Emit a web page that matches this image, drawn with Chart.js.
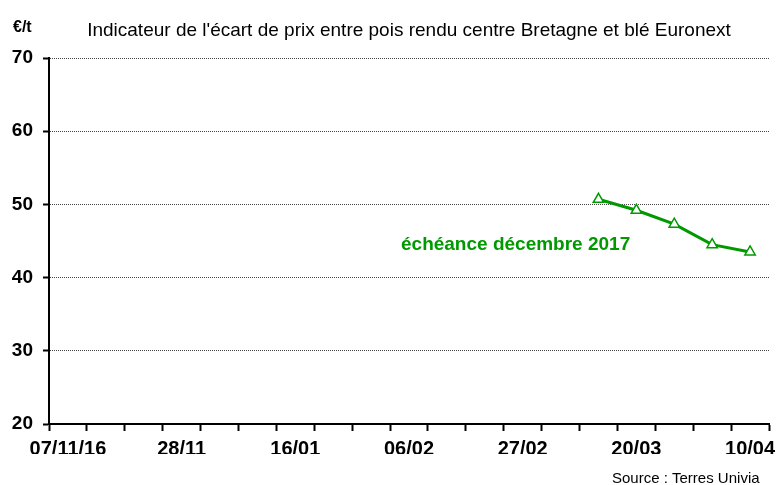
<!DOCTYPE html>
<html>
<head>
<meta charset="utf-8">
<script src="https://cdn.jsdelivr.net/npm/chart.js@4/dist/chart.umd.min.js"></script>
<style>
  html, body { margin: 0; padding: 0; background: #fff; }
  #wrap { width: 777px; height: 485px; }
</style>
</head>
<body>
<div id="wrap"><canvas id="mycanvas" width="777" height="485"></canvas></div>
<script>
// weekly categories, one label every 3 weeks
var weeks = ['07/11/16', '14/11', '21/11', '28/11', '05/12', '12/12', '16/01', '23/01', '30/01',
  '06/02', '13/02', '20/02', '27/02', '06/03', '13/03', '20/03', '27/03', '03/04', '10/04'];
var dec2017 = [null, null, null, null, null, null, null, null, null,
  null, null, null, null, null, 50.7, 49.2, 47.3, 44.5, 43.5];
var yTicks = [20, 30, 40, 50, 60, 70];

var green = '#009a00';
var fontName = '"Liberation Sans", Arial, sans-serif';

var textPlugin = {
  id: 'texts',
  afterDraw: function(chart) {
    var ctx = chart.ctx;
    ctx.save();
    ctx.fillStyle = '#000';
    ctx.textBaseline = 'middle';
    ctx.font = '19px ' + fontName;
    ctx.textAlign = 'center';
    ctx.fillText("Indicateur de l'écart de prix entre pois rendu centre Bretagne et blé Euronext", 409, 31);
    ctx.font = 'bold 16px ' + fontName;
    ctx.textAlign = 'left';
    ctx.fillText('€/t', 13, 28);
    ctx.font = '15px ' + fontName;
    ctx.fillText('Source : Terres Univia', 612, 479);
    ctx.fillStyle = green;
    ctx.font = 'bold 19px ' + fontName;
    ctx.fillText('échéance décembre 2017', 401, 245);
    ctx.restore();
  }
};

var ctx = document.getElementById('mycanvas');
var lineChart = new Chart(ctx, {
  type: 'line',
  data: {
    labels: weeks,
    datasets: [{
      label: 'échéance décembre 2017',
      data: dec2017,
      borderColor: green,
      borderWidth: 3,
      pointStyle: 'triangle',
      pointRadius: 6,
      pointBorderWidth: 1.5,
      pointBackgroundColor: '#fff',
      pointBorderColor: green,
      tension: 0
    }]
  },
  options: {
    responsive: false,
    animation: false,
    layout: { padding: { left: 0, top: 58, right: 8, bottom: 31 } },
    plugins: {
      legend: { display: false },
      tooltip: { enabled: false }
    },
    scales: {
      x: {
        offset: true,
        afterFit: function(scale) {
          scale.height = 30;
          scale.paddingLeft = 0;
          scale.paddingRight = 0;
        },
        border: { display: true, color: '#000', width: 2 },
        grid: {
          display: true, offset: true, drawOnChartArea: false, drawTicks: true,
          tickLength: 7, tickColor: '#000', tickWidth: 2, tickBorderDash: []
        },
        ticks: {
          autoSkip: false, maxRotation: 0, padding: 6, color: '#000',
          font: { family: fontName, size: 20, weight: 'bold' },
          callback: function(v, i) { return i % 3 === 0 ? weeks[i] : ''; }
        }
      },
      y: {
        min: yTicks[0],
        max: yTicks[yTicks.length - 1],
        afterFit: function(scale) { scale.width = 49; },
        afterBuildTicks: function(scale) {
          scale.ticks = yTicks.map(function(v) { return { value: v }; });
        },
        border: { display: true, color: '#000', width: 2, dash: [1, 1] },
        grid: {
          color: '#444', lineWidth: 1, drawTicks: true, tickLength: 6,
          tickColor: '#000', tickWidth: 2, tickBorderDash: []
        },
        ticks: {
          padding: 10, color: '#000',
          font: { family: fontName, size: 19, weight: 'bold' }
        }
      }
    }
  },
  plugins: [textPlugin]
});
</script>
</body>
</html>
